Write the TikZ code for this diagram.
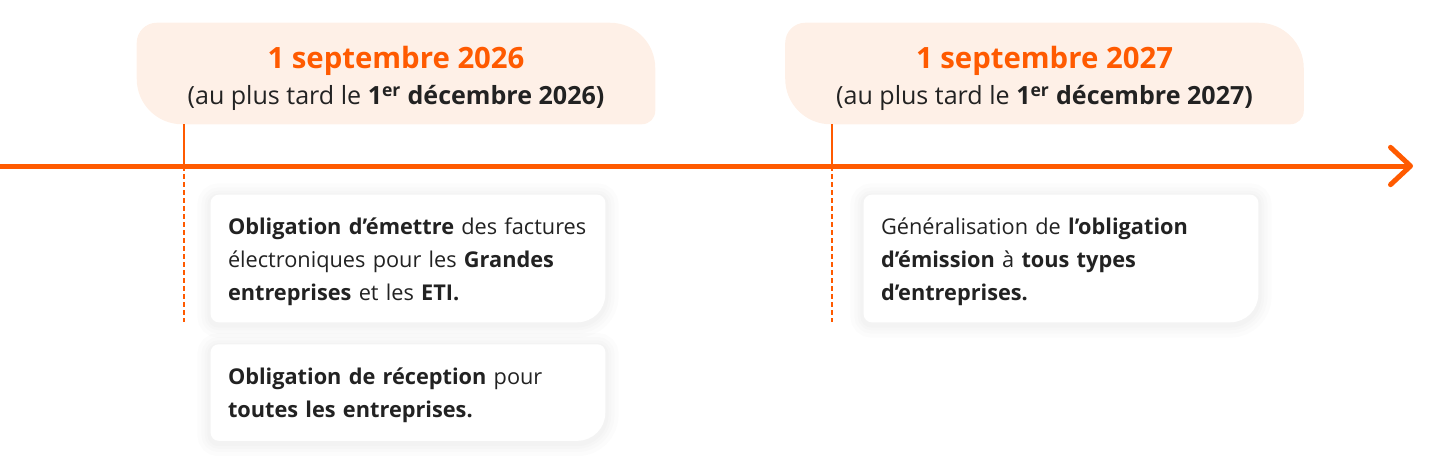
\documentclass[tikz,border=0pt]{standalone}
\usepackage{fontspec}
\setmainfont{Open Sans}
\usetikzlibrary{positioning,arrows.meta,calc,backgrounds}

\definecolor{brandorange}{HTML}{FF5A00}
\definecolor{peach}{HTML}{FEF0E7}
\definecolor{inkdark}{HTML}{222222}

% outline of a box with its own radius at each corner:
% node, top-left, top-right, bottom-right, bottom-left
\newcommand{\leafpath}[5]{%
  ($(#1.north west)+(0pt,-#2)$) arc[start angle=180,end angle=90,radius=#2]
  -- ($(#1.north east)+(-#3,0pt)$) arc[start angle=90,end angle=0,radius=#3]
  -- ($(#1.south east)+(0pt,#4)$) arc[start angle=0,end angle=-90,radius=#4]
  -- ($(#1.south west)+(#5,0pt)$) arc[start angle=270,end angle=180,radius=#5]
  -- cycle}

\begin{document}
\begin{tikzpicture}[
    x=0.75pt, y=0.75pt,
    font=\fontsize{16.3}{24.6}\selectfont,
    text=inkdark,
    datebox/.style={
        align=center,
        inner sep=0pt,
        minimum width=388.5pt,
        minimum height=75.75pt,
        font=\fontsize{18.8}{27}\selectfont
    },
    notebox/.style={
        align=left,
        inner xsep=12.75pt,
        inner ysep=0pt,
        text width=270pt,
        minimum height=95.25pt
    },
    datefill/.style={fill=peach},
    notefill/.style={fill=white},
    halo/.style={draw=black, opacity=0.012, line width=#1},
    timeline/.style={
        draw=brandorange,
        line width=3.75pt,
        -{Straight Barb[length=15pt,width=28pt,round]}
    },
    marktick/.style={draw=brandorange, line width=1.5pt},
    trail/.style={draw=brandorange, line width=1.3pt, dash pattern=on 3.4pt off 2.6pt}
]
\useasboundingbox (0,0) rectangle (1440,-475);

% Dates
\node[datebox] (date1) at (396,-73.5) {%
    {\fontsize{22}{27}\selectfont\bfseries\color{brandorange}\rule{0pt}{24pt}1 septembre 2026}\\
    (au plus tard le \textbf{1\textsuperscript{er} décembre 2026)}};
\node[datebox] (date2) at (1044.5,-73.5) {%
    {\fontsize{22}{27}\selectfont\bfseries\color{brandorange}\rule{0pt}{24pt}1 septembre 2027}\\
    (au plus tard le \textbf{1\textsuperscript{er} décembre 2027)}};

% Obligations
\node[notebox] (emit) at (408,-258.5) {%
    \rule{0pt}{17pt}\textbf{Obligation d’émettre} des factures\\
    électroniques pour les \textbf{Grandes}\\
    \textbf{entreprises} et les \textbf{ETI.}};
\node[notebox, minimum height=72pt, below=16.5pt of emit] (recv) {%
    \rule{0pt}{17pt}\textbf{Obligation de réception} pour\\
    \textbf{toutes les entreprises.}};
\node[notebox] (general) at (1061,-258.5) {%
    \rule{0pt}{17pt}Généralisation de \textbf{l’obligation}\\
    \textbf{d’émission} à \textbf{tous types}\\
    \textbf{d’entreprises.}};

% Timeline
\coordinate (start) at (0,-166);
\coordinate (stop) at (1413,-166);
\coordinate (mark1) at (184,-166);
\coordinate (mark2) at (832,-166);

\draw[marktick] (date1.south -| mark1) -- (mark1);
\draw[marktick] (date2.south -| mark2) -- (mark2);
\draw[trail] (mark1) -- (mark1 |- emit.south);
\draw[trail] (mark2) -- (mark2 |- general.south);
\draw[timeline] (start) -- (stop);

% Box backgrounds
\begin{scope}[on background layer]
    \begin{scope}[transform canvas={yshift=-1.5pt}]
        \foreach \n in {emit,recv,general}{
            \foreach \w in {20pt,14pt,9pt,5pt}
                \path[halo=\w] \leafpath{\n}{6pt}{6pt}{21pt}{6pt};
        }
    \end{scope}
    \foreach \n in {emit,recv,general}
        \path[notefill] \leafpath{\n}{6pt}{6pt}{21pt}{6pt};
    \foreach \n in {date1,date2}
        \path[datefill] \leafpath{\n}{15pt}{34pt}{10pt}{34pt};
\end{scope}

\end{tikzpicture}
\end{document}
